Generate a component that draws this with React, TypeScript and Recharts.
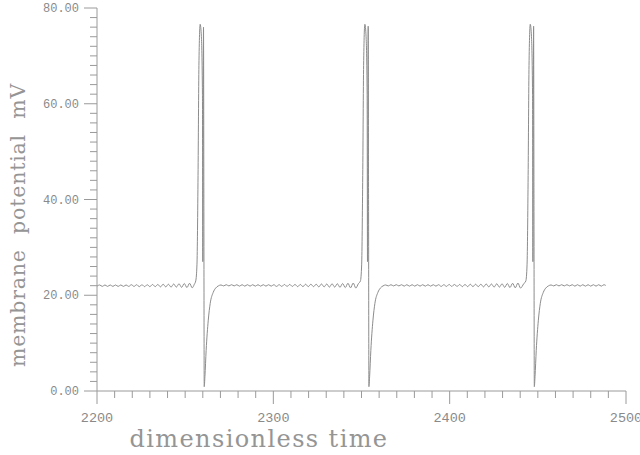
import React from 'react';
import { LineChart, Line, XAxis, YAxis } from 'recharts';

// [time, mV] pairs
const restA: [number, number][] = [
  [2200, 21.9], [2201.5, 22.15], [2203, 21.85], [2204.5, 22.15], [2206, 21.85], [2207.5, 22.15],
  [2209, 21.85], [2210.5, 22.15], [2212, 21.85], [2213.5, 22.15], [2215, 21.85], [2216.5, 22.15],
  [2218, 21.85], [2219.5, 22.2], [2221, 21.85], [2222.5, 22.2], [2224, 21.8], [2225.5, 22.2],
  [2227, 21.8], [2228.5, 22.2], [2230, 21.8], [2231.5, 22.25], [2233, 21.8], [2234.5, 22.25],
  [2236, 21.75], [2237.5, 22.3], [2239, 21.75], [2240.5, 22.3], [2242, 21.7], [2243.5, 22.35],
  [2245, 21.7], [2246.5, 22.4], [2248, 21.65], [2249.5, 22.45], [2251, 21.6], [2252.5, 22.5],
  [2254, 21.55], [2255.2, 22.3],
];

const spike1: [number, number][] = [
  [2256.0, 23.0], [2256.7, 26.5], [2257.3, 45], [2257.8, 68], [2258.5, 76.6], [2259.2, 74],
  [2259.8, 62], [2260.0, 27], [2260.2, 50], [2260.4, 76.0], [2260.6, 40], [2260.8, 0.9],
  [2261.2, 3], [2261.9, 8.5], [2263.1, 14.8], [2264.2, 18.3], [2265.9, 20.6], [2267.3, 21.5],
  [2268.8, 21.95], [2270.3, 22.15],
];

const restB: [number, number][] = [
  [2271.8, 21.95], [2273.3, 22.2], [2274.8, 21.95], [2276.3, 22.2], [2277.8, 21.95], [2279.3, 22.2],
  [2280.8, 21.9], [2282.3, 22.2], [2283.8, 21.9], [2285.3, 22.2], [2286.8, 21.9], [2288.3, 22.2],
  [2289.8, 21.9], [2291.3, 22.2], [2292.8, 21.9], [2294.3, 22.2], [2295.8, 21.9], [2297.3, 22.2],
  [2298.8, 21.9], [2300.3, 22.2], [2301.8, 21.85], [2303.3, 22.2], [2304.8, 21.85], [2306.3, 22.25],
  [2307.8, 21.85], [2309.3, 22.25], [2310.8, 21.85], [2312.3, 22.25], [2313.8, 21.8], [2315.3, 22.25],
  [2316.8, 21.8], [2318.3, 22.3], [2319.8, 21.8], [2321.3, 22.3], [2322.8, 21.8], [2324.3, 22.3],
  [2325.8, 21.75], [2327.3, 22.35], [2328.8, 21.75], [2330.3, 22.35], [2331.8, 21.7], [2333.3, 22.4],
  [2334.8, 21.7], [2336.3, 22.4], [2337.8, 21.65], [2339.3, 22.45], [2340.8, 21.6], [2342.3, 22.5],
  [2343.8, 21.55], [2345.3, 22.55], [2346.8, 21.5], [2348.2, 22.4],
];

const spike2: [number, number][] = [
  [2349.4, 23.0], [2350.1, 26.5], [2350.7, 45], [2351.2, 68], [2351.9, 76.6], [2352.6, 74],
  [2353.2, 62], [2353.4, 27], [2353.6, 50], [2353.8, 76.2], [2354.0, 40], [2354.2, 0.9],
  [2354.6, 3], [2355.3, 8.5], [2356.5, 14.8], [2357.6, 18.3], [2359.3, 20.6], [2360.7, 21.5],
  [2362.2, 21.95], [2363.7, 22.15],
];

const restC: [number, number][] = [
  [2365.2, 21.95], [2366.7, 22.2], [2368.2, 21.95], [2369.7, 22.2], [2371.2, 21.95], [2372.7, 22.2],
  [2374.2, 21.9], [2375.7, 22.2], [2377.2, 21.9], [2378.7, 22.2], [2380.2, 21.9], [2381.7, 22.2],
  [2383.2, 21.9], [2384.7, 22.2], [2386.2, 21.9], [2387.7, 22.2], [2389.2, 21.9], [2390.7, 22.2],
  [2392.2, 21.9], [2393.7, 22.2], [2395.2, 21.85], [2396.7, 22.2], [2398.2, 21.85], [2399.7, 22.25],
  [2401.2, 21.85], [2402.7, 22.25], [2404.2, 21.85], [2405.7, 22.25], [2407.2, 21.8], [2408.7, 22.25],
  [2410.2, 21.8], [2411.7, 22.3], [2413.2, 21.8], [2414.7, 22.3], [2416.2, 21.8], [2417.7, 22.3],
  [2419.2, 21.75], [2420.7, 22.35], [2422.2, 21.75], [2423.7, 22.35], [2425.2, 21.7], [2426.7, 22.4],
  [2428.2, 21.7], [2429.7, 22.4], [2431.2, 21.65], [2432.7, 22.45], [2434.2, 21.6], [2435.7, 22.5],
  [2437.2, 21.55], [2438.7, 22.55], [2440.2, 21.5], [2442.0, 22.4],
];

const spike3: [number, number][] = [
  [2443.2, 23.0], [2443.9, 26.5], [2444.5, 45], [2445.0, 68], [2445.7, 76.6], [2446.4, 74],
  [2447.0, 62], [2447.2, 27], [2447.4, 50], [2447.6, 76.2], [2447.8, 40], [2448.0, 0.9],
  [2448.4, 3], [2449.1, 8.5], [2450.3, 14.8], [2451.4, 18.3], [2453.1, 20.6], [2454.5, 21.5],
  [2456.0, 21.95], [2457.5, 22.15],
];

const restD: [number, number][] = [
  [2459, 21.95], [2460.5, 22.2], [2462, 21.95], [2463.5, 22.2], [2465, 21.95], [2466.5, 22.2],
  [2468, 21.95], [2469.5, 22.2], [2471, 21.9], [2472.5, 22.2], [2474, 21.9], [2475.5, 22.2],
  [2477, 21.9], [2478.5, 22.2], [2480, 21.9], [2481.5, 22.2], [2483, 21.9], [2484.5, 22.2],
  [2486, 21.9], [2487.5, 22.2], [2488.5, 22.05],
];

const xTicks = [
  2200, 2210, 2220, 2230, 2240, 2250, 2260, 2270, 2280, 2290, 2300, 2310, 2320, 2330, 2340, 2350,
  2360, 2370, 2380, 2390, 2400, 2410, 2420, 2430, 2440, 2450, 2460, 2470, 2480, 2490, 2500,
];
const yTicks = [
  0, 2, 4, 6, 8, 10, 12, 14, 16, 18, 20, 22, 24, 26, 28, 30, 32, 34, 36, 38, 40,
  42, 44, 46, 48, 50, 52, 54, 56, 58, 60, 62, 64, 66, 68, 70, 72, 74, 76, 78, 80,
];

const data = [...restA, ...spike1, ...restB, ...spike2, ...restC, ...spike3, ...restD].map(([t, v]) => ({ t, v }));

const AXIS = '#9a9a9a';
const TEXT = '#8a8a8a';

const XTick = ({ x, y, payload }: any) => {
  const major = payload.value % 100 === 0;
  return (
    <g>
      <line x1={x} y1={y} x2={x} y2={y + (major ? 13 : 7)} stroke={AXIS} />
      {major && (
        <text x={x} y={y + 31} textAnchor="middle" fill={TEXT} fontSize={13.5} fontFamily="Liberation Mono">
          {payload.value}
        </text>
      )}
    </g>
  );
};

const YTick = ({ x, y, payload }: any) => {
  const major = payload.value % 20 === 0;
  return (
    <g>
      <line x1={x} y1={y} x2={x - (major ? 13 : 7)} y2={y} stroke={AXIS} />
      {major && (
        <text x={x - 18} y={y + 4} textAnchor="end" fill={TEXT} fontSize={12} fontFamily="Liberation Mono">
          {payload.value.toFixed(2)}
        </text>
      )}
    </g>
  );
};

export default function App() {
  return (
    <div style={{ position: 'absolute', left: 0, top: 0, width: 640, height: 455, background: '#fff' }}>
      <LineChart width={640} height={455} data={data} margin={{ top: 8, right: 14, left: 0, bottom: 0 }}>
        <XAxis
          dataKey="t"
          type="number"
          domain={[2200, 2500]}
          ticks={xTicks}
          interval={0}
          tickSize={0}
          tickMargin={0}
          tickLine={false}
          axisLine={{ stroke: AXIS }}
          height={64}
          tick={<XTick />}
        />
        <YAxis
          type="number"
          domain={[0, 80]}
          ticks={yTicks}
          interval={0}
          tickSize={0}
          tickMargin={0}
          tickLine={false}
          axisLine={{ stroke: AXIS }}
          width={97}
          tick={<YTick />}
        />
        <Line dataKey="v" type="monotone" stroke="#8c8c8c" strokeWidth={1} dot={false} activeDot={false} isAnimationActive={false} />
      </LineChart>
      <svg width={640} height={455} style={{ position: 'absolute', left: 0, top: 0, pointerEvents: 'none' }}>
        <text x={259} y={447} textAnchor="middle" fill="#959595" fontSize={24} fontFamily="DejaVu Serif" letterSpacing={1.4}>
          dimensionless time
        </text>
        <text transform="translate(25,225) rotate(-90)" textAnchor="middle" fill="#959595" fontSize={20.5} fontFamily="DejaVu Serif" letterSpacing={0.8} wordSpacing={8}>
          membrane potential mV
        </text>
      </svg>
    </div>
  );
}
